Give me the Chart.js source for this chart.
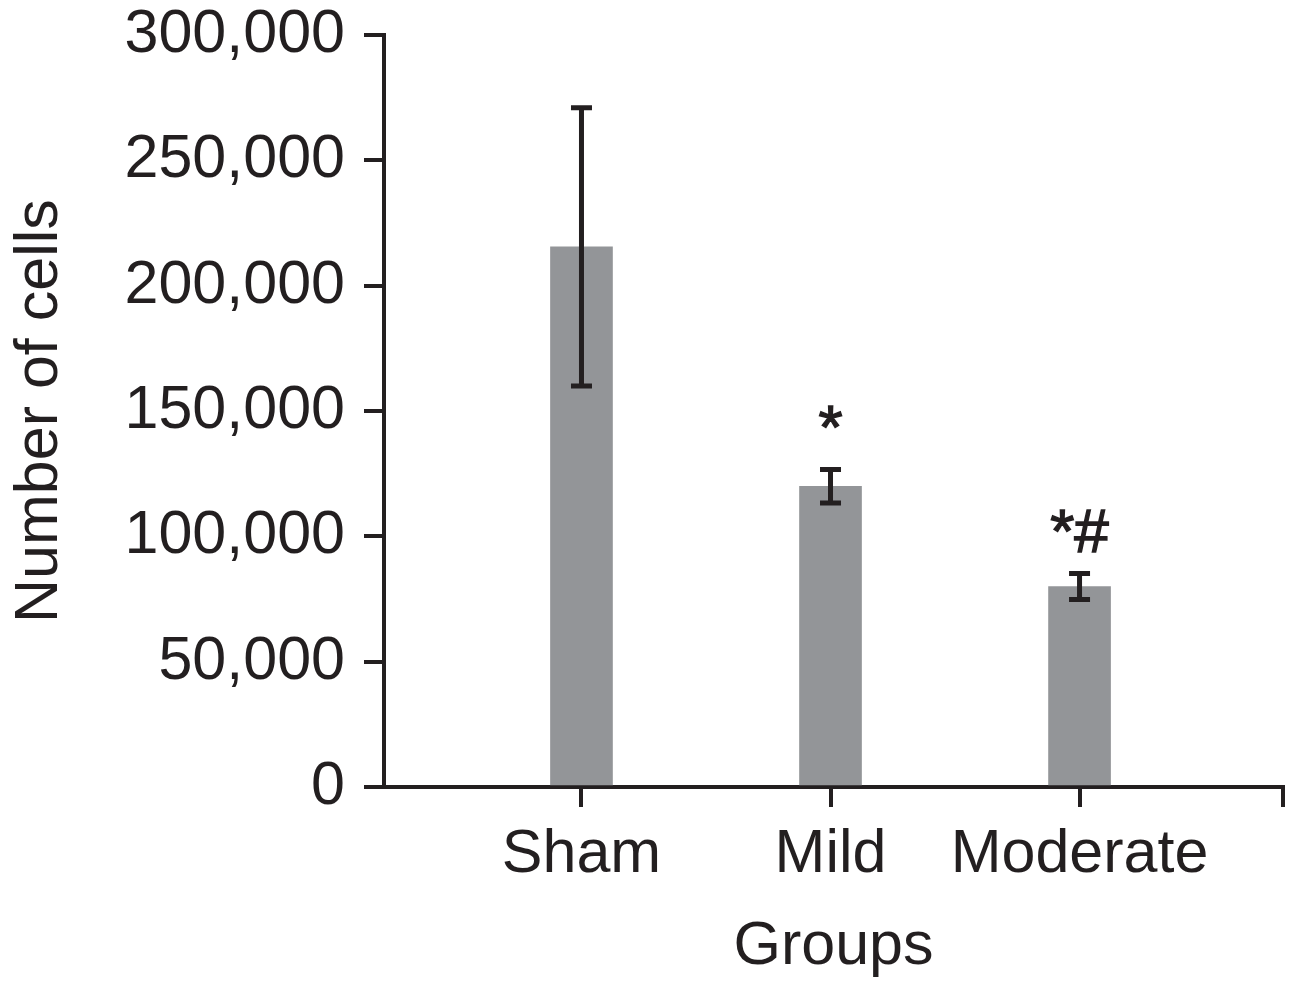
<!DOCTYPE html>
<html>
<head>
<meta charset="utf-8">
<script src="https://cdn.jsdelivr.net/npm/chart.js@4.4.1/dist/chart.umd.min.js"></script>
<style>
  html, body { margin: 0; padding: 0; background: #ffffff; }
  #wrap { width: 1296px; height: 985px; }
</style>
</head>
<body>
<div id="wrap"><canvas id="chart" width="1296" height="985"></canvas></div>
<script>
// Cell counts per group (mean ± SEM)
const groups = ['Sham', 'Mild', 'Moderate'];
const meanCells = [215500, 120000, 80000];
const semCells = [55500, 6700, 5200];
const significance = ['', '*', '*#'];
const yTickValues = [0, 50000, 100000, 150000, 200000, 250000, 300000];

const INK = '#231f20';
const FONT = "'Liberation Sans', Arial, Helvetica, sans-serif";

const points = groups.map((g, i) => ({ x: i + 1, y: meanCells[i] }));

// Error bars and significance marks, positioned through the chart scales
const errorBarPlugin = {
  id: 'errorBars',
  afterDatasetsDraw(chart) {
    const { ctx, scales: { x, y } } = chart;
    ctx.save();
    ctx.strokeStyle = INK;
    ctx.lineWidth = 5;
    ctx.lineCap = 'butt';
    const capHalf = 10.5;
    groups.forEach((g, i) => {
      const px = x.getPixelForValue(i + 1);
      const top = y.getPixelForValue(meanCells[i] + semCells[i]);
      const bot = y.getPixelForValue(meanCells[i] - semCells[i]);
      ctx.beginPath();
      ctx.moveTo(px, top);
      ctx.lineTo(px, bot);
      ctx.moveTo(px - capHalf, top);
      ctx.lineTo(px + capHalf, top);
      ctx.moveTo(px - capHalf, bot);
      ctx.lineTo(px + capHalf, bot);
      ctx.stroke();
      if (significance[i]) {
        ctx.fillStyle = INK;
        ctx.font = '62px ' + FONT;
        ctx.textAlign = 'center';
        ctx.textBaseline = 'alphabetic';
        ctx.fillText(significance[i], px, top - 21);
        // slightly heavier glyphs for the significance marks
        ctx.lineWidth = 1.4;
        ctx.strokeText(significance[i], px, top - 21);
        ctx.lineWidth = 5;
      }
    });
    ctx.restore();
  }
};

new Chart(document.getElementById('chart'), {
  type: 'bar',
  data: {
    datasets: [{
      data: points,
      backgroundColor: '#939598',
      borderWidth: 0,
      barThickness: 62
    }]
  },
  options: {
    responsive: false,
    animation: false,
    events: [],
    layout: { padding: { left: 0, right: 13, top: 0, bottom: 0 } },
    plugins: {
      legend: { display: false },
      tooltip: { enabled: false }
    },
    scales: {
      x: {
        type: 'linear',
        offset: false,
        min: 0.207,
        max: 3.817,
        afterFit(scale) { scale.height = 198; },
        afterBuildTicks(scale) {
          scale.ticks = groups.map((g, i) => ({ value: i + 1 })).concat([{ value: scale.max }]);
        },
        ticks: {
          autoSkip: false,
          maxRotation: 0,
          padding: 12,
          color: INK,
          font: { family: FONT, size: 61, lineHeight: 1.2 },
          callback(value) {
            const idx = Math.round(value) - 1;
            return (Math.abs(value - (idx + 1)) < 1e-6 && groups[idx]) ? groups[idx] : '';
          }
        },
        grid: {
          offset: false,
          drawOnChartArea: false,
          drawTicks: true,
          tickLength: 20,
          tickWidth: 4,
          lineWidth: 4,
          tickColor: INK,
          color: INK
        },
        border: { display: true, width: 4, color: INK },
        title: {
          display: true,
          text: 'Groups',
          color: INK,
          font: { family: FONT, size: 61, lineHeight: 1.2 },
          padding: { top: 0, bottom: 1 }
        }
      },
      y: {
        type: 'linear',
        min: 0,
        max: 300000,
        afterFit(scale) { scale.width = 384; },
        afterBuildTicks(scale) {
          scale.ticks = yTickValues.map(v => ({ value: v }));
        },
        ticks: {
          padding: 19,
          color: INK,
          font: { family: FONT, size: 61, lineHeight: 0.53 },
          callback(value) { return value.toLocaleString('en-US'); }
        },
        grid: {
          drawOnChartArea: false,
          drawTicks: true,
          tickLength: 20,
          tickWidth: 4,
          lineWidth: 4,
          tickColor: INK,
          color: INK
        },
        border: { display: true, width: 4, color: INK },
        title: {
          display: true,
          text: 'Number of cells',
          color: INK,
          font: { family: FONT, size: 61, lineHeight: 1.2 },
          padding: { top: 4, bottom: 0 }
        }
      }
    }
  },
  plugins: [errorBarPlugin]
});
</script>
</body>
</html>
